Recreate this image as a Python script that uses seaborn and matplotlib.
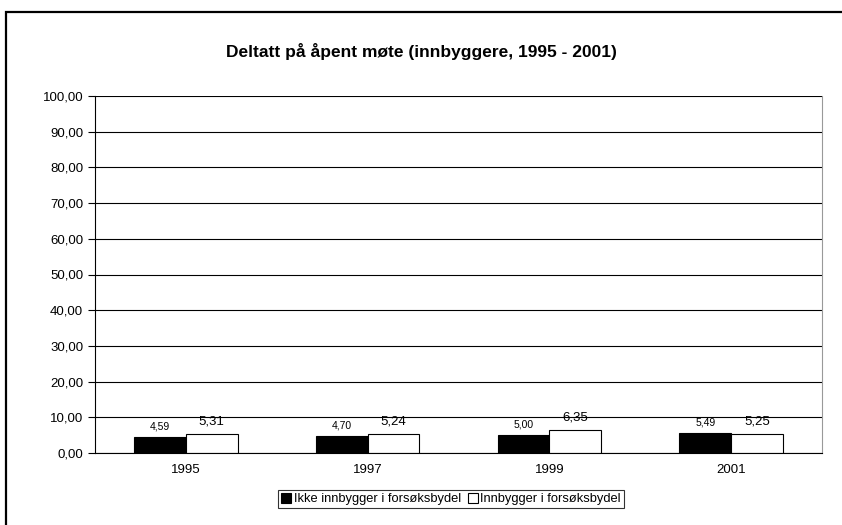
import pandas as pd
import matplotlib.pyplot as plt
import matplotlib.patches as mpatches
import seaborn as sns

sns.set_style("white")
plt.rcParams['font.family'] = ['Liberation Sans', 'DejaVu Sans']
plt.rcParams['text.color'] = 'black'
plt.rcParams['xtick.color'] = 'black'
plt.rcParams['ytick.color'] = 'black'

# Data
years = ['1995', '1997', '1999', '2001']
ikke_innbygger = [4.59, 4.70, 5.00, 5.49]
innbygger = [5.31, 5.24, 6.35, 5.25]
series_names = ['Ikke innbygger i forsøksbydel', 'Innbygger i forsøksbydel']
y_ticks = list(range(0, 101, 10))

df = pd.DataFrame({
    'year': years * 2,
    'value': ikke_innbygger + innbygger,
    'group': [series_names[0]] * len(years) + [series_names[1]] * len(years),
})

fig = plt.figure(figsize=(8.42, 5.25), dpi=100)
ax = fig.add_axes([95 / 842, 72 / 525, 727 / 842, 357 / 525])

sns.barplot(data=df, x='year', y='value', hue='group', hue_order=series_names,
            palette=['black', 'white'], edgecolor='black', linewidth=0.8,
            width=0.57, gap=0, ax=ax, legend=False)

ax.set_ylim(0, 100)
ax.set_xlim(-0.5, len(years) - 0.5)
ax.set_yticks(y_ticks)
ax.set_yticklabels([f'{v:.2f}'.replace('.', ',') for v in y_ticks], fontsize=9.5)
ax.yaxis.grid(True, color='black', linewidth=0.8)
ax.set_axisbelow(True)
ax.set_xlabel('')
ax.set_ylabel('')

# category labels at centres, tick marks between categories
ax.set_xticks(range(len(years)))
ax.set_xticklabels(years, fontsize=9.5)
ax.tick_params(axis='x', length=0, pad=8)
ax.set_xticks([i + 0.5 for i in range(len(years))], minor=True)
ax.tick_params(axis='x', which='minor', length=5, color='black', width=0.8, direction='out')
ax.tick_params(axis='y', length=5, color='black', width=0.8, direction='out', left=True)

for side in ['left', 'bottom']:
    ax.spines[side].set_color('black')
    ax.spines[side].set_linewidth(0.8)
ax.spines['top'].set_visible(False)
ax.spines['right'].set_color('#999999')
ax.spines['right'].set_linewidth(0.8)

# value labels
for cont, size, pad in zip(ax.containers, [7.5, 9.5], [4, 5]):
    ax.bar_label(cont, labels=[f'{v:.2f}'.replace('.', ',') for v in cont.datavalues],
                 fontsize=size, padding=pad)

fig.suptitle('Deltatt på åpent møte (innbyggere, 1995 - 2001)', fontsize=12.5,
             fontweight='bold', y=0.918)

handles = [mpatches.Patch(facecolor='black', edgecolor='black', linewidth=0.8),
           mpatches.Patch(facecolor='white', edgecolor='black', linewidth=0.8)]
leg = fig.legend(handles, series_names, loc='center', bbox_to_anchor=(451 / 842, 1 - 499 / 525),
                 ncol=2, fontsize=9.3, frameon=True, fancybox=False, handlelength=0.8,
                 handleheight=0.8, handletextpad=0.2, columnspacing=0.5, borderpad=0.2,
                 borderaxespad=0)
leg.get_frame().set_edgecolor('black')
leg.get_frame().set_linewidth(0.8)

# outer chart frame
fig.patches.append(mpatches.Rectangle((6 / 842, -0.05), 2, 1.05 - 12 / 525, transform=fig.transFigure,
                                      fill=False, edgecolor='black', linewidth=1.6))

fig.savefig('out.png', dpi=100)
